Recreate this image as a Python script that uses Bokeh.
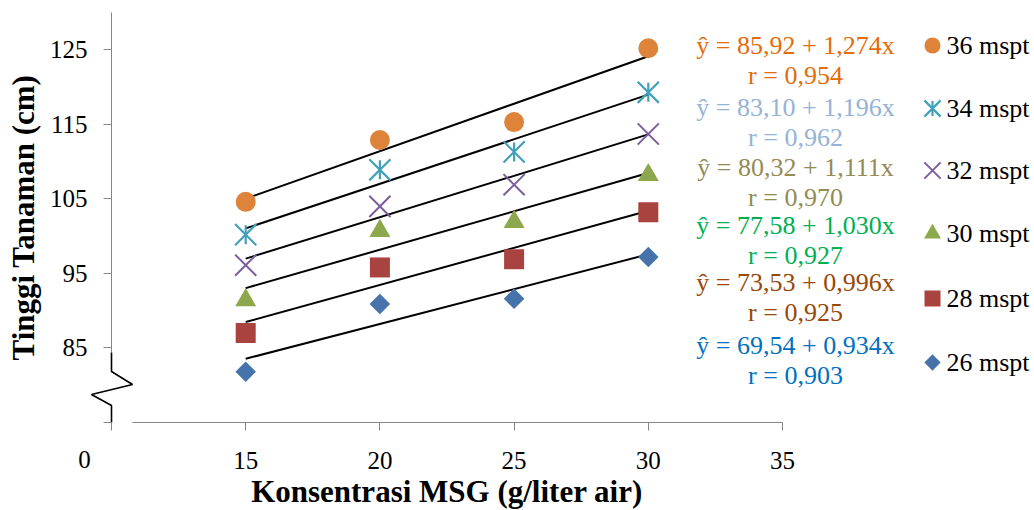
import math
from bokeh.plotting import figure
from bokeh.models import FixedTicker, Range1d, Label
from bokeh.core.properties import value
from bokeh.embed import file_html
from bokeh.resources import INLINE

# ---------------- data ----------------
konsentrasi = [15, 20, 25, 30]
series_names = ["36 mspt", "34 mspt", "32 mspt", "30 mspt", "28 mspt", "26 mspt"]
h36 = [104.6, 112.9, 115.3, 125.2]
h34 = [100.2, 108.9, 111.3, 119.3]
h32 = [96.1, 104.0, 106.9, 113.7]
h30 = [91.4, 100.7, 101.9, 108.2]
h28 = [87.0, 95.8, 96.9, 103.2]
h26 = [81.8, 90.9, 91.6, 97.2]
intercepts = [85.92, 83.10, 80.32, 77.58, 73.53, 69.54]
slopes = [1.274, 1.196, 1.111, 1.030, 0.996, 0.934]
r_values = [0.954, 0.962, 0.970, 0.927, 0.925, 0.903]
x_ticks = [10, 15, 20, 25, 30, 35]
x_tick_labels = ["", "15", "20", "25", "30", "35"]
y_ticks = [75, 85, 95, 105, 115, 125]
y_tick_labels = ["", "85", "95", "105", "115", "125"]
x_origin_label = "0"

# ---------------- styles / layout ----------------
FONT = "Liberation Serif"
AXIS_GRAY = "#868686"
marker_colors = ["#DD843A", "#41A1B8", "#7B5E9E", "#8CA74C", "#A8433F", "#4673AA"]
eq_colors = ["#E36C0A", "#95B3D7", "#948A54", "#00B050", "#984807", "#0070C0"]

W, H = 1034, 510
# pixel anchors of the data axes (x=10 -> 111 px, x=35 -> 782 px; y=130 -> 12 px, y=75 -> 422 px)
AX_L, AX_R, AX_T, AX_B = 111, 782, 12, 422
X0, X1, Y0, Y1 = 10, 35, 75, 130
SX = (AX_R - AX_L) / (X1 - X0)
SY = (AX_B - AX_T) / (Y1 - Y0)


def px_to_x(px):
    return X0 + (px - AX_L) / SX


def py_to_y(py):
    return Y1 - (py - AX_T) / SY


p = figure(width=W, height=H, output_backend="svg", toolbar_location=None,
           x_range=Range1d(px_to_x(0), px_to_x(W)), y_range=Range1d(py_to_y(H), py_to_y(0)),
           min_border_left=0, min_border_right=0, min_border_top=0, min_border_bottom=0)
p.outline_line_color = None
p.xgrid.visible = False
p.ygrid.visible = False
p.background_fill_color = "white"
p.border_fill_color = "white"

for ax in (p.xaxis[0], p.yaxis[0]):
    ax.axis_line_color = None
    ax.major_tick_line_color = AXIS_GRAY
    ax.major_tick_in = 0
    ax.major_tick_out = 8
    ax.minor_tick_line_color = None
    ax.major_label_text_font = FONT
    ax.major_label_text_font_size = "25px"
    ax.major_label_text_color = "black"
    ax.axis_label_text_font = FONT
    ax.axis_label_text_font_size = "31px"
    ax.axis_label_text_font_style = "bold"
    ax.axis_label_text_color = "black"

p.xaxis.fixed_location = Y0
p.xaxis.bounds = (X0, X1)
p.xaxis.ticker = FixedTicker(ticks=x_ticks)
p.xaxis.major_label_overrides = {t: l for t, l in zip(x_ticks, x_tick_labels)}
p.xaxis.axis_label = "Konsentrasi MSG (g/liter air)"
p.xaxis.major_label_standoff = 21
p.xaxis.axis_label_standoff = 2

p.yaxis.fixed_location = X0
p.yaxis.bounds = (Y0, Y1)
p.yaxis.ticker = FixedTicker(ticks=y_ticks)
p.yaxis.major_label_overrides = {t: l for t, l in zip(y_ticks, y_tick_labels)}
p.yaxis.axis_label = "Tinggi Tanaman (cm)"
p.yaxis.major_label_standoff = 16
p.yaxis.axis_label_standoff = 6

# axis lines with the axis-break zigzag
p.line([X0, X0], [Y1, py_to_y(352)], line_color=AXIS_GRAY, line_width=1)
p.line([X0, X0, px_to_x(132), px_to_x(91), X0, X0],
       [py_to_y(352), py_to_y(371), py_to_y(384), py_to_y(394), py_to_y(405), Y0],
       line_color="black", line_width=1.6)
p.line([px_to_x(132), X1], [Y0, Y0], line_color=AXIS_GRAY, line_width=1)

p.add_layout(Label(x=px_to_x(84), y=py_to_y(459), text=x_origin_label,
                   text_font=FONT, text_font_size="25px", text_color="black",
                   text_align="center", text_baseline="middle"))

# trend lines
for a, b in zip(intercepts, slopes):
    xs = [konsentrasi[0], konsentrasi[-1]]
    p.line(xs, [a + b * x for x in xs], line_color="black", line_width=2)

# data markers
p.scatter(konsentrasi, h36, marker="circle", size=20, fill_color=marker_colors[0], line_color=None)
p.scatter(konsentrasi, h34, marker="x", size=30, line_color=marker_colors[1], line_width=2.2)
p.scatter(konsentrasi, h34, marker="dash", size=19, angle=math.pi / 2,
          line_color=marker_colors[1], line_width=2.2)
p.scatter(konsentrasi, h32, marker="x", size=30, line_color=marker_colors[2], line_width=2)
p.scatter(konsentrasi, h30, marker="triangle", size=21, fill_color=marker_colors[3], line_color=None)
p.scatter(konsentrasi, h28, marker="square", size=20, fill_color=marker_colors[4], line_color=None)
p.scatter(konsentrasi, h26, marker="square", size=14.5, angle=math.pi / 4,
          fill_color=marker_colors[5], line_color=None)

# legend (drawn as markers + texts)
leg_y_px = [45, 108, 170, 233, 298, 362]
lx = px_to_x(932)
ly = [py_to_y(v) for v in leg_y_px]
p.scatter([lx], [ly[0]], marker="circle", size=16, fill_color=marker_colors[0], line_color=None)
p.scatter([lx], [ly[1]], marker="x", size=23, line_color=marker_colors[1], line_width=2.2)
p.scatter([lx], [ly[1]], marker="dash", size=15, angle=math.pi / 2, line_color=marker_colors[1], line_width=2.2)
p.scatter([lx], [ly[2]], marker="x", size=23, line_color=marker_colors[2], line_width=2)
p.scatter([lx], [ly[3]], marker="triangle", size=17, fill_color=marker_colors[3], line_color=None)
p.scatter([lx], [ly[4]], marker="square", size=16, fill_color=marker_colors[4], line_color=None)
p.scatter([lx], [ly[5]], marker="square", size=11.5, angle=math.pi / 4, fill_color=marker_colors[5], line_color=None)
p.text(x=[px_to_x(946)] * len(series_names), y=ly, text=series_names,
       text_font=value(FONT), text_font_size="26px", text_color="black",
       text_align="left", text_baseline="middle")

# regression equations
eq_y_px = [45, 107, 167, 225, 282, 345]
eq_x = px_to_x(795)
eq_texts, r_texts = [], []
for a, b, rv in zip(intercepts, slopes, r_values):
    eq_texts.append("ŷ = " + f"{a:.2f}".replace(".", ",") + " + " + f"{b:.3f}".replace(".", ",") + "x")
    r_texts.append("r = " + f"{rv:.3f}".replace(".", ","))
p.text(x=[eq_x] * 6, y=[py_to_y(v) for v in eq_y_px], text=eq_texts,
       text_font=value(FONT), text_font_size="26px", text_color=eq_colors,
       text_align="center", text_baseline="middle")
p.text(x=[eq_x] * 6, y=[py_to_y(v + 30) for v in eq_y_px], text=r_texts,
       text_font=value(FONT), text_font_size="26px", text_color=eq_colors,
       text_align="center", text_baseline="middle")

open("out.html", "w").write(file_html(p, INLINE))
